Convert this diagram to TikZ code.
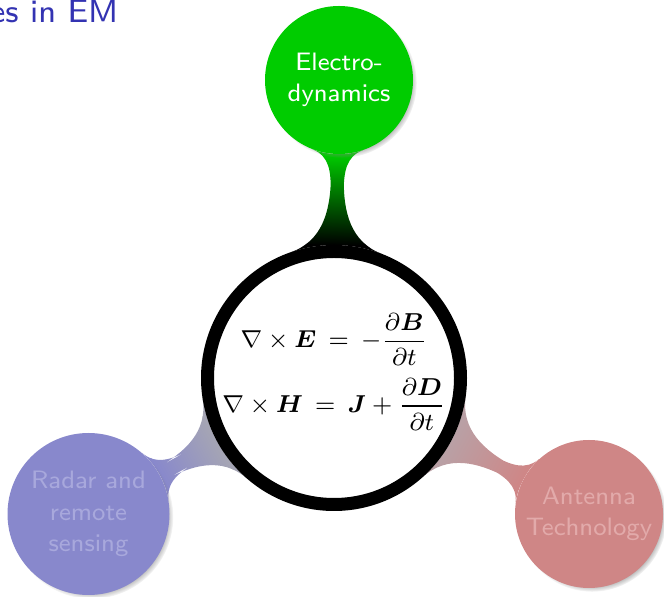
\documentclass[tikz,border=0pt]{standalone}
\usepackage{amsmath,bm}
\usetikzlibrary{mindmap,shadows,backgrounds}
\definecolor{titleblue}{rgb}{0.2,0.2,0.7}
\definecolor{greenc}{RGB}{0,204,0}
\definecolor{bluec}{RGB}{136,136,204}
\definecolor{bluetxt}{RGB}{168,168,220}
\definecolor{redc}{RGB}{207,134,134}
\definecolor{redtxt}{RGB}{226,170,170}
\definecolor{bluebarstart}{RGB}{165,165,180}
\definecolor{redbarstart}{RGB}{185,160,165}
\begin{document}
\begin{tikzpicture}[x=1pt,y=1pt,
  myshadow/.style={circular drop shadow={shadow xshift=3pt, shadow yshift=-3pt, shadow scale=1.01}},
  bubble/.style={circle, inner sep=0pt, myshadow},
  btext/.style={align=center, inner sep=0pt, scale=3.15,
    font=\fontsize{8}{10}\selectfont\sffamily},
  hub/.style={circle, draw=black, line width=13pt, fill=white,
    minimum size=253pt, inner sep=0pt, myshadow},
  bar/.style={line width=16pt},
]
\useasboundingbox (0,0) rectangle (664,597);
\node[anchor=base east, text=titleblue, scale=4.05, inner sep=0pt,
  font=\fontsize{8}{10}\selectfont\sffamily] (title) at (119,574) {es in EM};
\node[hub] (hub) at (334,219) {};
\node[bubble, fill=greenc, minimum size=148pt] (el) at (339,517) {};
\node[bubble, fill=bluec, minimum size=162pt] (radar) at (88.5,83) {};
\node[bubble, fill=redc, minimum size=148pt] (ant) at (589,83) {};
\node[btext, text=white] (elt) at (el) {Electro-\\dynamics};
\node[btext, text=bluetxt] (radart) at (radar) {Radar and\\remote\\sensing};
\node[btext, text=redtxt] (antt) at (ant) {Antenna\\Technology};
\node[scale=3.06, inner sep=0pt, font=\fontsize{8}{10}\selectfont] (eqs) at (334,225)
  {$\thickmuskip=8.5mu\begin{gathered}\nabla\times\boldsymbol{E}=-\frac{\partial\boldsymbol{B}}{\partial t}\\
   \nabla\times\boldsymbol{H}=\boldsymbol{J}+\frac{\partial\boldsymbol{D}}{\partial t}\end{gathered}$};
\begin{pgfonlayer}{background}
\path[bar] (hub) to[circle connection bar switch color=from (black) to (greenc)] (el);
\path[bar] (hub) to[circle connection bar switch color=from (bluebarstart) to (bluec)] (radar);
\path[bar] (hub) to[circle connection bar switch color=from (redbarstart) to (redc)] (ant);
\end{pgfonlayer}
\end{tikzpicture}
\end{document}
